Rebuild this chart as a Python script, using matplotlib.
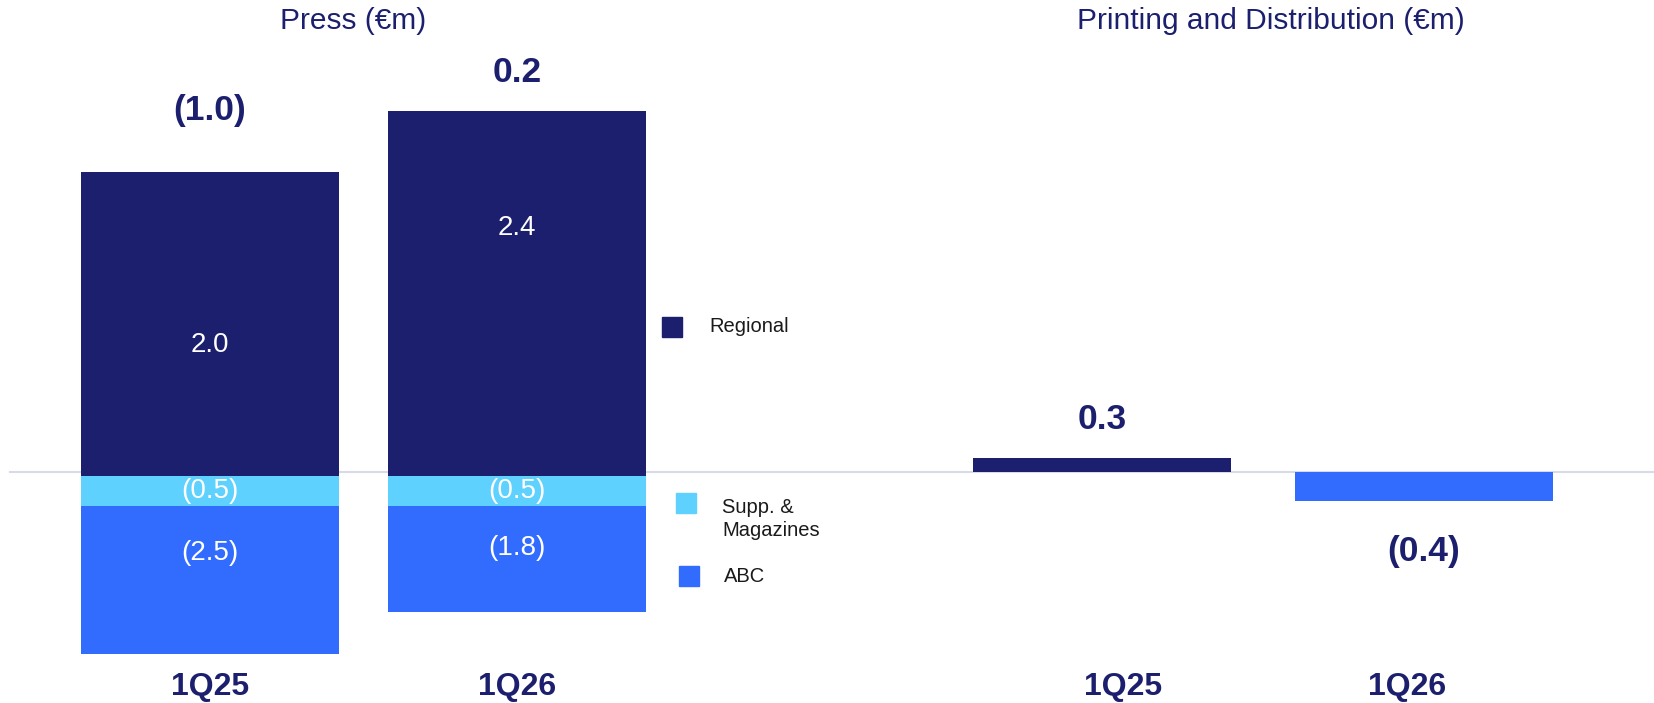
import matplotlib
matplotlib.use("Agg")
import matplotlib.pyplot as plt
import numpy as np
from matplotlib.lines import Line2D

plt.rcParams["font.family"] = ["Liberation Sans", "DejaVu Sans"]

W, H, DPI = 1654, 703, 100

# Press segments (€m)
press_periods = ["1Q25", "1Q26"]
regional = [2.0, 2.4]
supp_magazines = [-0.5, -0.5]
abc = [-2.5, -1.8]
press_totals = [-1.0, 0.2]

# Printing and Distribution (€m)
pd_periods = ["1Q25", "1Q26"]
pd_values = [0.3, -0.4]

NAVY = "#1b1f6e"
CYAN = "#5fd1fe"
BLUE = "#316cff"
LINE = "#d9dae8"


def fmt(v):
    return f"({abs(v):.1f})" if v < 0 else f"{v:.1f}"


def split_scale(neg):
    # negatives drawn on a compressed/stretched scale, positives linear
    def fwd(y):
        y = np.asarray(y, dtype=float)
        return np.where(y < 0, y * neg, y)

    def inv(t):
        t = np.asarray(t, dtype=float)
        return np.where(t < 0, t / neg, t)

    return fwd, inv


def period_label(ax, xpos, text, dx=0):
    ax.annotate(text, (xpos, 0.023), xycoords=ax.get_xaxis_transform(),
                xytext=(dx, 0), textcoords="offset pixels", ha="center",
                va="center", color=NAVY, fontsize=23, fontweight="bold")


fig = plt.figure(figsize=(W / DPI, H / DPI), dpi=DPI)

# ---- Press ----
ax1 = fig.add_axes([0, 0, 0.5, 1])
ax1.set_facecolor("none")
ax1.set_yscale("function", functions=split_scale(0.39))
ax1.set_xlim(-0.684, 2.010)
ax1.set_ylim(-3.83, 3.13)
ax1.axis("off")

x = np.arange(len(press_periods))
bw = 0.84
ax1.bar(x, regional, bw, color=NAVY)
ax1.bar(x, supp_magazines, bw, color=CYAN)
ax1.bar(x, abc, bw, bottom=supp_magazines, color=BLUE)

reg_frac = [0.43, 0.68]
abc_frac = [0.32, 0.40]
total_gap = [61, 38]
for i in range(len(x)):
    ax1.text(x[i], regional[i] * reg_frac[i], fmt(regional[i]), ha="center",
             va="center", color="white", fontsize=20)
    ax1.text(x[i], supp_magazines[i] / 2, fmt(supp_magazines[i]), ha="center",
             va="center", color="white", fontsize=20)
    ax1.text(x[i], supp_magazines[i] + abc[i] * abc_frac[i], fmt(abc[i]),
             ha="center", va="center", color="white", fontsize=20)
    ax1.annotate(fmt(press_totals[i]), (x[i], regional[i]), xytext=(0, total_gap[i]),
                 textcoords="offset pixels", ha="center", va="center",
                 color=NAVY, fontsize=25.5, fontweight="bold")
    period_label(ax1, x[i], press_periods[i])

# ---- Printing and Distribution ----
ax2 = fig.add_axes([0.5, 0, 0.5, 1])
ax2.set_facecolor("none")
ax2.set_yscale("function", functions=split_scale(1.53))
ax2.set_xlim(-0.854, 1.714)
ax2.set_ylim(-3.21, 10.04)
ax2.axis("off")

x2 = np.arange(len(pd_periods))
ax2.bar(x2, pd_values, 0.80, color=[NAVY, BLUE])
pd_gap = [38, -51]
pd_label_dx = [21, -17]
for i in range(len(x2)):
    ax2.annotate(fmt(pd_values[i]), (x2[i], pd_values[i]), xytext=(0, pd_gap[i]),
                 textcoords="offset pixels", ha="center", va="center",
                 color=NAVY, fontsize=25.5, fontweight="bold")
    period_label(ax2, x2[i], pd_periods[i], pd_label_dx[i])

# zero line across the page, behind the bars
fig.add_artist(Line2D([10 / W, 1], [1 - 472 / H] * 2, color=LINE, lw=1.5,
                      transform=fig.transFigure, zorder=-1))

# titles
fig.text(353 / W, 1 - 21 / H, "Press (€m)", ha="center", va="center",
         color=NAVY, fontsize=21.5)
fig.text(1271 / W, 1 - 21 / H, "Printing and Distribution (€m)", ha="center",
         va="center", color=NAVY, fontsize=21.5)

# legend
legend_items = [
    ("Regional", NAVY, 672, 327, 709),
    ("Supp. &\nMagazines", CYAN, 686, 503, 722),
    ("ABC", BLUE, 689, 576, 724),
]
for label, c, mx, my, tx in legend_items:
    fig.add_artist(Line2D([mx / W], [1 - my / H], marker="s", markersize=14,
                          color=c, transform=fig.transFigure))
    ty = my + 16 if "\n" in label else my
    fig.text(tx / W, 1 - ty / H, label, ha="left", va="center",
             color="#1a1a1a", fontsize=14.5, linespacing=1.3)

fig.savefig("out.png", dpi=DPI)
